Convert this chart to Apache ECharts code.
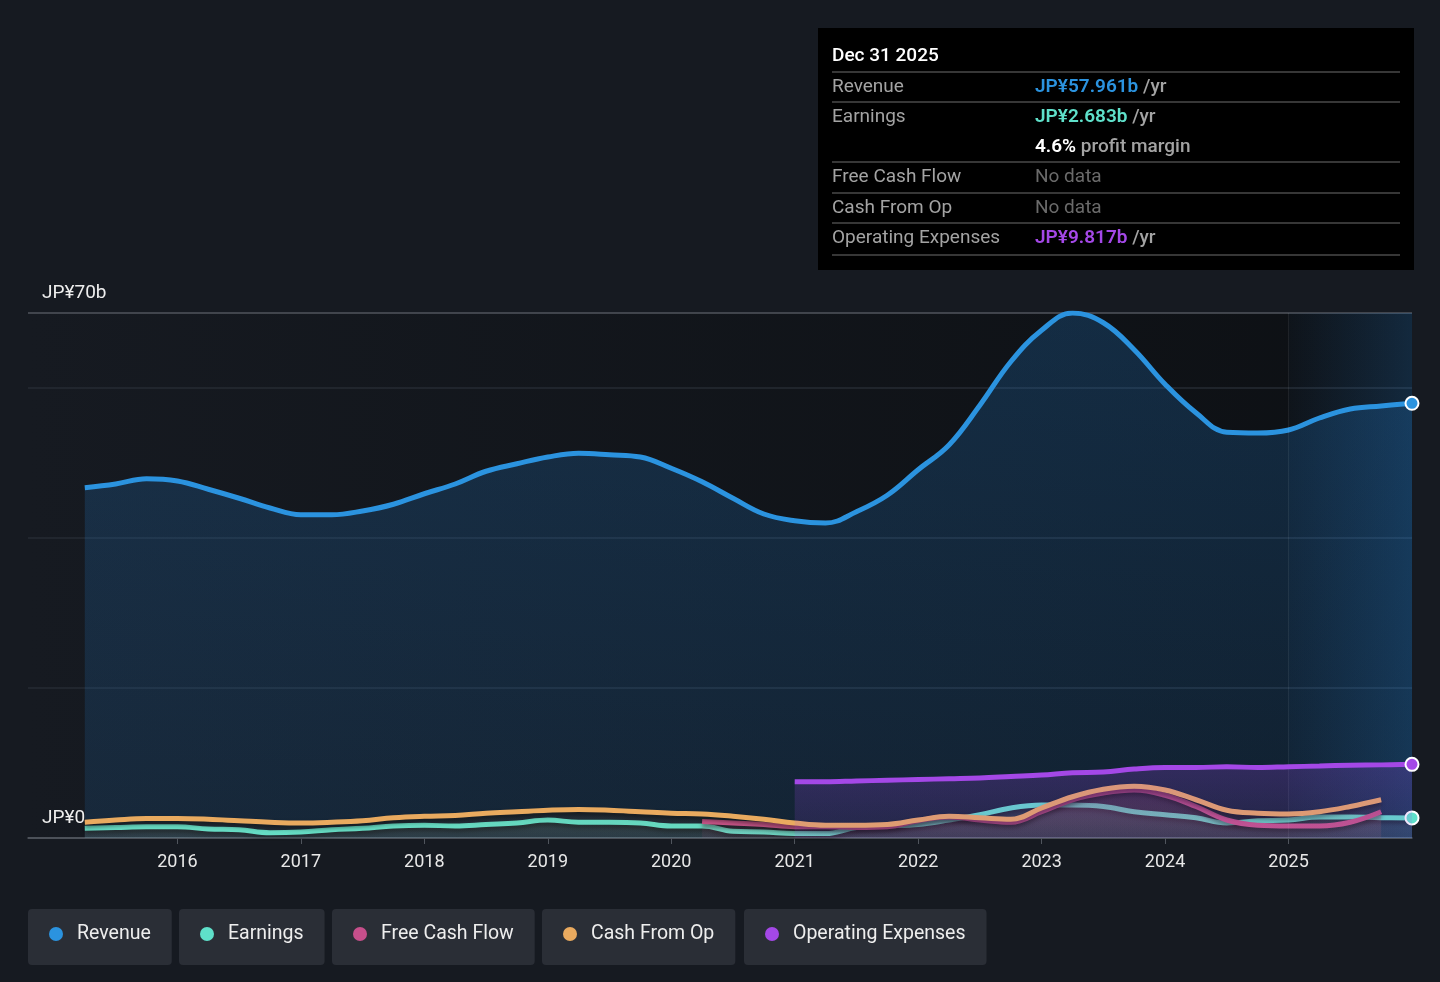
<!DOCTYPE html>
<html>
<head>
<meta charset="utf-8">
<script src="https://cdn.jsdelivr.net/npm/echarts@6/dist/echarts.min.js"></script>
<style>
html,body{margin:0;padding:0;background:#161a21;}
#chart{width:1440px;height:982px;}
</style>
</head>
<body>
<div id="chart"></div>
<script>
// ---- data (JP¥ billions, trailing twelve months, quarter ends) ----
const quarters = [
  '2015-Q1','2015-Q2','2015-Q3','2015-Q4',
  '2016-Q1','2016-Q2','2016-Q3','2016-Q4',
  '2017-Q1','2017-Q2','2017-Q3','2017-Q4',
  '2018-Q1','2018-Q2','2018-Q3','2018-Q4',
  '2019-Q1','2019-Q2','2019-Q3','2019-Q4',
  '2020-Q1','2020-Q2','2020-Q3','2020-Q4',
  '2021-Q1','2021-Q2','2021-Q3','2021-Q4',
  '2022-Q1','2022-Q2','2022-Q3','2022-Q4',
  '2023-Q1','2023-Q2','2023-Q3','2023-Q4',
  '2024-Q1','2024-Q2','2024-Q3','2024-Q4',
  '2025-Q1','2025-Q2','2025-Q3','2025-Q4'
];
const revenue = [
  46.7,47.2,47.9,47.6,
  46.5,45.3,44.0,43.1,
  43.1,43.6,44.5,45.9,
  47.2,48.9,49.9,50.8,
  51.3,51.1,50.8,49.3,
  47.5,45.3,43.2,42.3,
  42.0,43.5,45.7,49.1,
  52.4,57.7,63.5,67.7,
  70.0,68.7,65.1,60.5,
  56.7,54.1,54.0,54.4,
  56.0,57.2,57.6,57.961
];
const earnings = [
  1.3,1.4,1.5,1.5,
  1.2,1.1,0.7,0.8,
  1.1,1.3,1.6,1.7,
  1.6,1.8,2.0,2.4,
  2.1,2.1,2.0,1.6,
  1.6,0.9,0.8,0.6,
  0.6,1.4,1.6,1.8,
  2.4,3.1,4.0,4.4,
  4.4,4.2,3.5,3.1,
  2.7,2.0,2.3,2.4,
  2.8,2.8,2.7,2.683
];
const freeCashFlow = [
  null,null,null,null,
  null,null,null,null,
  null,null,null,null,
  null,null,null,null,
  null,null,null,null,
  2.2,2.0,1.8,1.5,
  1.5,1.4,1.5,2.3,
  2.8,2.4,2.1,3.5,
  5.1,6.0,6.4,5.7,
  4.2,2.4,1.7,1.6,
  1.6,2.1,3.5,null
];
const cashFromOp = [
  2.1,2.4,2.6,2.6,
  2.5,2.3,2.1,2.0,
  2.1,2.3,2.7,2.9,
  3.0,3.3,3.5,3.7,
  3.8,3.7,3.5,3.3,
  3.2,2.9,2.5,2.0,
  1.7,1.7,1.8,2.4,
  2.9,2.7,2.5,4.0,
  5.5,6.5,6.9,6.4,
  5.1,3.7,3.3,3.2,
  3.5,4.2,5.1,null
];
const operatingExpenses = [
  null,null,null,null,
  null,null,null,null,
  null,null,null,null,
  null,null,null,null,
  null,null,null,null,
  null,null,null,7.5,
  7.5,7.6,7.7,7.8,
  7.9,8.0,8.2,8.4,
  8.7,8.8,9.2,9.4,
  9.4,9.5,9.4,9.5,
  9.6,9.7,9.75,9.817
];
const yearTicks = [2016,2017,2018,2019,2020,2021,2022,2023,2024,2025];
const yTickLabels = {0:'JP¥0', 70:'JP¥70b'};
const seriesNames = ['Revenue','Earnings','Free Cash Flow','Cash From Op','Operating Expenses'];
const seriesColors = ['#2b93df','#5fe0ca','#c64f8b','#e9aa5f','#a448e7'];
const lastLabel = 'Dec 31 2025';

// ---- helpers ----
function qToYear(q){ const [y,n] = q.split('-Q'); return +y + (+n)*0.25; }
function build(values, color, endMarker){
  const pts = [];
  values.forEach((v,i)=>{ if(v!=null) pts.push([qToYear(quarters[i]), v]); });
  const out = pts.map(p=>({value:p}));
  if(endMarker){
    const last = out[out.length-1];
    last.symbol = 'circle';
    last.symbolSize = 13;
    last.itemStyle = {color: color, borderColor:'#ffffff', borderWidth:2};
  }
  return out;
}
const G = echarts.graphic;
function vgrad(c1,c2){ return new G.LinearGradient(0,0,0,1,[{offset:0,color:c1},{offset:1,color:c2}]); }
function hgrad(c1,c2){ return new G.LinearGradient(0,0,1,0,[{offset:0,color:c1},{offset:1,color:c2}]); }

const lineShadow = {shadowColor:'rgba(0,0,0,0.45)', shadowBlur:4, shadowOffsetY:3};

const series = [
  {
    name: seriesNames[0], type:'line', smooth:0.4, symbol:'none', showSymbol:true,
    data: build(revenue, seriesColors[0], true),
    lineStyle:{color:seriesColors[0], width:5},
    itemStyle:{color:seriesColors[0]},
    areaStyle:{color: vgrad('rgba(35,130,215,0.33)','rgba(35,130,215,0.20)')},
    z:2,
    markArea:{
      silent:true,
      itemStyle:{color: hgrad('rgba(40,120,200,0.03)','rgba(40,130,210,0.22)')},
      data:[[{xAxis:2025},{xAxis:2026}]]
    },
    markLine:{
      silent:true, symbol:'none', label:{show:false},
      lineStyle:{color:'rgba(255,255,255,0.07)', width:1, type:'solid'},
      data:[{xAxis:2025}]
    }
  },
  {
    name: seriesNames[1], type:'line', smooth:0.4, symbol:'none', showSymbol:true,
    data: build(earnings, seriesColors[1], true),
    lineStyle:Object.assign({color:seriesColors[1], width:5}, lineShadow),
    itemStyle:{color:seriesColors[1]},
    areaStyle:{color: vgrad('rgba(150,200,190,0.22)','rgba(150,200,190,0.16)')},
    z:3
  },
  {
    name: seriesNames[2], type:'line', smooth:0.4, symbol:'none', showSymbol:false,
    data: build(freeCashFlow, seriesColors[2], false),
    lineStyle:Object.assign({color:seriesColors[2], width:5}, lineShadow),
    itemStyle:{color:seriesColors[2]},
    areaStyle:{color: vgrad('rgba(198,79,139,0.28)','rgba(198,79,139,0.10)')},
    z:4
  },
  {
    name: seriesNames[3], type:'line', smooth:0.4, symbol:'none', showSymbol:false,
    data: build(cashFromOp, seriesColors[3], false),
    lineStyle:Object.assign({color:seriesColors[3], width:5}, lineShadow),
    itemStyle:{color:seriesColors[3]},
    areaStyle:{color: vgrad('rgba(10,15,22,0.30)','rgba(233,170,95,0.06)')},
    z:5
  },
  {
    name: seriesNames[4], type:'line', smooth:0.4, symbol:'none', showSymbol:true,
    data: build(operatingExpenses, seriesColors[4], true),
    lineStyle:{color:seriesColors[4], width:5},
    itemStyle:{color:seriesColors[4]},
    areaStyle:{color: vgrad('rgba(155,70,230,0.34)','rgba(155,70,230,0.16)')},
    z:6
  }
];

// legends: one boxed legend per series
const legendLefts = [28,179,332,542,744];
const legends = seriesNames.map((n,i)=>({
  data:[n], left:legendLefts[i], top:909, orient:'horizontal',
  icon:'circle', itemWidth:14, itemHeight:14,
  backgroundColor:'#2a2e36', borderRadius:4,
  padding:[15,21,21,21],
  textStyle:{color:'#eeeeee', fontSize:19.5, fontFamily:'Roboto', lineHeight:20, padding:[0,0,0,9]},
  inactiveColor:'#666'
}));

// info panel
const lastIdx = revenue.length-1;
const fmtB = v => 'JP¥' + v.toFixed(3) + 'b';
const margin = (earnings[lastIdx]/revenue[lastIdx]*100).toFixed(1) + '%';
const px = 832, vx = 1035;
function label(t,y){ return {type:'text', left:px, top:y-8, style:{text:t, fill:'#a3a3a3', font:'19px Roboto'}}; }
function sep(y){ return {type:'line', shape:{x1:px,y1:y,x2:1400,y2:y}, style:{stroke:'#4a4a4a', lineWidth:1.5}}; }
function val(parts,y){
  return {type:'text', left:vx, top:y-8, style:{
    text: parts.map(p=>'{'+p[0]+'|'+p[1]+'}').join(''),
    rich:{
      rev:{fill:seriesColors[0], fontSize:19, fontWeight:600, fontFamily:'Roboto'},
      ear:{fill:seriesColors[1], fontSize:19, fontWeight:600, fontFamily:'Roboto'},
      opx:{fill:seriesColors[4], fontSize:19, fontWeight:600, fontFamily:'Roboto'},
      w:{fill:'#ffffff', fontSize:19, fontWeight:600, fontFamily:'Roboto'},
      g:{fill:'#a3a3a3', fontSize:19, fontWeight:500, fontFamily:'Roboto'},
      nd:{fill:'#6a6a6a', fontSize:19, fontFamily:'Roboto'}
    }
  }};
}
const panel = {
  type:'group', children:[
    {type:'rect', shape:{x:818,y:28,width:596,height:242}, style:{fill:'#000000'}},
    {type:'text', left:px, top:47, style:{text:lastLabel, fill:'#ffffff', font:'500 19px Roboto'}},
    sep(72),
    label('Revenue',86), val([['rev',fmtB(revenue[lastIdx])],['g',' /yr']],86),
    sep(102),
    label('Earnings',116), val([['ear',fmtB(earnings[lastIdx])],['g',' /yr']],116),
    val([['w',margin],['g',' profit margin']],146),
    sep(162),
    label('Free Cash Flow',176), val([['nd','No data']],176),
    sep(193),
    label('Cash From Op',207), val([['nd','No data']],207),
    sep(223),
    label('Operating Expenses',237), val([['opx',fmtB(operatingExpenses[lastIdx])],['g',' /yr']],237),
    sep(255)
  ]
};

const chart = echarts.init(document.getElementById('chart'), null, {renderer:'canvas'});
chart.setOption({
  backgroundColor:'#161a21',
  animation:false,
  textStyle:{fontFamily:'Roboto'},
  grid:{
    left:28, right:28, top:313, bottom:144, containLabel:false,
    show:true, borderWidth:0,
    backgroundColor: hgrad('#161a21','#0d1014')
  },
  legend: legends,
  xAxis:{
    type:'value', min:2014.79, max:2026.0,
    axisLine:{show:true, lineStyle:{color:'#50555d', width:1.5}},
    axisTick:{show:true, customValues:yearTicks, length:6, lineStyle:{color:'#50555d'}},
    axisLabel:{customValues:yearTicks, color:'#e8e8e8', fontSize:18, margin:15,
      formatter: v => String(Math.round(v))},
    splitLine:{show:false}
  },
  yAxis:{
    type:'value', min:0, max:70, interval:20,
    axisLine:{show:false}, axisTick:{show:false},
    axisLabel:{
      inside:true, margin:14, color:'#eeeeee', fontSize:19,
      verticalAlign:'bottom', lineHeight:20, padding:[0,0,10,0],
      showMinLabel:true, showMaxLabel:true,
      formatter: v => (yTickLabels[v] !== undefined ? yTickLabels[v] : '')
    },
    splitLine:{show:true, lineStyle:{color:['#50555d','#262b33','#262b33','#262b33','#50555d'], width:1.5}}
  },
  graphic:[panel],
  series: series
});
</script>
</body>
</html>
